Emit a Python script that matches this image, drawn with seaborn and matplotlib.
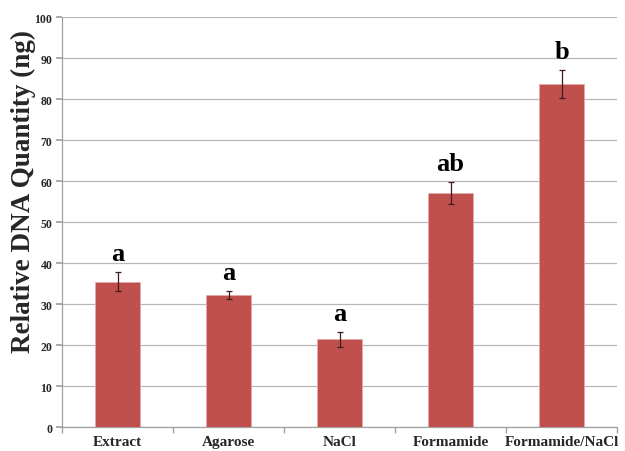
import matplotlib
matplotlib.use("Agg")
import matplotlib.pyplot as plt
import seaborn as sns
import pandas as pd

# Treatments, mean DNA yield, error, and significance groups
categories = ["Extract", "Agarose", "NaCl", "Formamide", "Formamide/NaCl"]
quantity = [35.5, 32.3, 21.4, 57.0, 83.7]
errors = [2.3, 1.0, 1.8, 2.7, 3.5]
groups = ["a", "a", "a", "ab", "b"]
y_ticks = [0, 10, 20, 30, 40, 50, 60, 70, 80, 90, 100]

sns.set_theme(style="white")
plt.rcParams["font.family"] = ["Liberation Serif", "DejaVu Serif"]

df = pd.DataFrame({"Treatment": categories, "Quantity": quantity})

fig = plt.figure(figsize=(6.25, 4.52), dpi=100)
ax = fig.add_axes([0.0992, 0.053, 0.888, 0.907])

bar_color = "#C0504D"
sns.barplot(data=df, x="Treatment", y="Quantity", color=bar_color,
            saturation=1, width=0.4, errorbar=None, ax=ax, zorder=3,
            edgecolor="#E8A9A7", linewidth=0.6)

ax.errorbar(range(len(categories)), quantity, yerr=errors, fmt="none",
            ecolor="#3B1E1E", elinewidth=0.9, capsize=2.5, capthick=0.9,
            zorder=4)

for i, (v, e, g) in enumerate(zip(quantity, errors, groups)):
    ax.annotate(g, xy=(i, v + e), xytext=(0, 5), textcoords="offset points",
                ha="center", va="bottom", fontsize=19, fontweight="bold",
                color="black")

ax.set_ylim(0, 100)
ax.set_xlim(-0.5, len(categories) - 0.5)
ax.set_yticks(y_ticks)
ax.set_yticklabels([str(t) for t in y_ticks], fontsize=8.5, fontweight="bold")
ax.yaxis.grid(True, color="#B8B8B8", linewidth=0.9, zorder=0)
ax.set_axisbelow(True)

# Category labels without tick marks; boundary ticks below the axis
ax.set_xticks(range(len(categories)))
ax.set_xticklabels(categories, fontsize=11, fontweight="bold")
ax.set_xticks([i - 0.5 for i in range(len(categories) + 1)], minor=True)
ax.tick_params(axis="x", which="major", length=0, pad=6)
ax.tick_params(axis="x", which="minor", length=4, color="#A0A0A0",
               direction="out", bottom=True)
ax.tick_params(axis="y", which="major", length=4, color="#A0A0A0",
               direction="out", left=True, pad=3)

ax.set_xlabel("")
ax.set_ylabel("Relative DNA Quantity (ng)", fontsize=19.5, fontweight="bold")
ax.yaxis.set_label_coords(-0.046, 0.576)

for side in ["top", "right"]:
    ax.spines[side].set_visible(False)
for side in ["left", "bottom"]:
    ax.spines[side].set_color("#A0A0A0")
    ax.spines[side].set_linewidth(0.9)

fig.savefig("out.png", dpi=100, facecolor="white")
